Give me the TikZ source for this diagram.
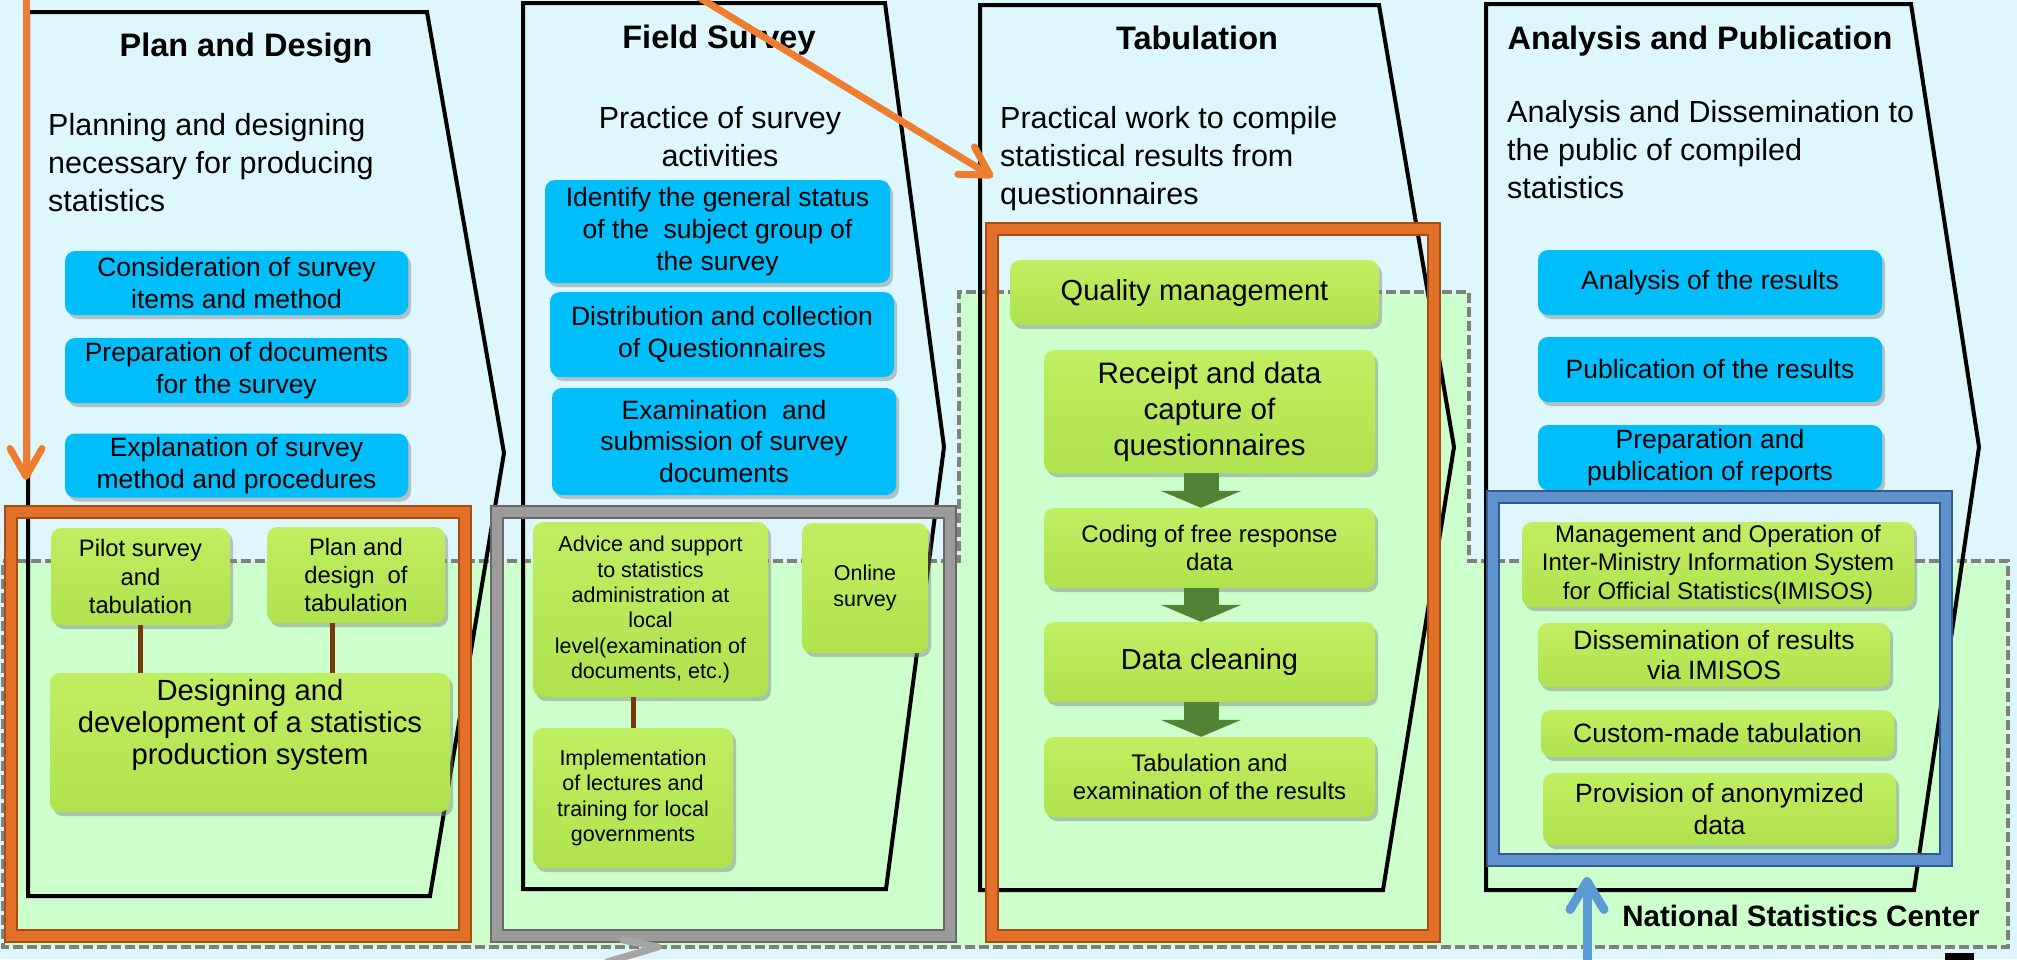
\documentclass[tikz,border=0pt]{standalone}
\usepackage{fontspec}
\setmainfont{Liberation Sans}
\usetikzlibrary{arrows.meta,shadows,calc}
\definecolor{BgC}{RGB}{222,247,253}
\definecolor{GrA}{RGB}{204,255,204}
\definecolor{DsG}{RGB}{128,128,128}
\definecolor{SkyB}{RGB}{0,190,250}
\definecolor{LimeT}{RGB}{192,238,98}
\definecolor{LimeB}{RGB}{176,226,78}
\definecolor{OrgA}{RGB}{237,125,49}
\definecolor{OrgF}{RGB}{226,112,40}
\definecolor{OrgD}{RGB}{165,78,20}
\definecolor{GryF}{RGB}{155,155,155}
\definecolor{GryD}{RGB}{105,105,105}
\definecolor{GryA}{RGB}{165,165,165}
\definecolor{BluF}{RGB}{95,145,205}
\definecolor{BluD}{RGB}{50,90,145}
\definecolor{BluA}{RGB}{91,155,213}
\definecolor{DkG}{RGB}{84,130,53}
\definecolor{Brn}{RGB}{120,56,12}
\tikzset{
    FS/.style 2 args={font=\fontsize{#1}{#2}\selectfont},
    BX/.style 2 args={minimum width=#1pt, minimum height=#2pt},
    TT/.style ={anchor=base, inner sep=0pt, font=\fontsize{32.5}{38}\selectfont\bfseries},
    ST/.style ={anchor=west, align=left, inner sep=0pt, font=\fontsize{30.5}{38}\selectfont},
    BL/.style ={rectangle, rounded corners=10pt, fill=SkyB, align=center, inner sep=0pt,
                drop shadow={shadow xshift=3pt, shadow yshift=-4pt, opacity=.45},
                font=\fontsize{26.5}{31.7}\selectfont},
    GR/.style ={rectangle, rounded corners=10pt, top color=LimeT, bottom color=LimeB, align=center, inner sep=0pt,
                drop shadow={shadow xshift=3pt, shadow yshift=-4pt, opacity=.45}},
    FR/.style 2 args={rectangle, draw=#2, double=#1, double distance=10pt, line width=2pt, inner sep=0pt},
    PG/.style ={draw=black, line width=4pt},
    GZ/.style ={fill=GrA, draw=DsG, line width=3.5pt, dash pattern=on 10pt off 4pt},
    LK/.style ={draw=Brn, line width=5pt},
    GA/.style ={draw=DkG, line width=35pt, -{Triangle[length=17pt, width=80pt]}},
    OA/.style ={draw=OrgA, line width=7pt, line cap=round, -{Straight Barb[round, length=28pt, width=32pt]}},
    BA/.style ={draw=BluA, line width=9pt, -{Straight Barb[round, length=28pt, width=34pt]}},
    GV/.style ={draw=GryA, line width=7pt, line cap=round, line join=round}}

\begin{document}
\begin{tikzpicture}[x=1pt, y=-1pt]
        \useasboundingbox (0,0) rectangle (2017,959);
        \clip (0,0) rectangle (2017,959);
        \fill[BgC] (0,0) rectangle (2017,959);
        \draw[GZ] (3,561) -- (959,561) -- (959,292) -- (1469,292) -- (1469,561) -- (2008,561) -- (2008,947) -- (3,947) -- cycle;
        \draw[PG] (28,12) -- (427,12) -- (504,453) -- (430,896) -- (28,896) -- cycle;
        \draw[PG] (523,3) -- (885,3) -- (944,447) -- (886,889) -- (523,889) -- cycle;
        \draw[PG] (980,5) -- (1379,5) -- (1454,447) -- (1383,890) -- (980,890) -- cycle;
        \draw[PG] (1486,4) -- (1911,4) -- (1979,447) -- (1914,890) -- (1486,890) -- cycle;
        \node[TT] (1) at(246,56){Plan and Design};
        \node[TT] (2) at(719,48){Field Survey};
        \node[TT] (3) at(1197,49){Tabulation};
        \node[TT] (4) at(1700,49){Analysis and Publication};
        \node[ST] (5) at(48,163){Planning and designing\\necessary for producing\\statistics};
        \node[ST, anchor=center, align=center] (6) at(720,137){Practice of survey\\activities};
        \node[ST] (7) at(1000,159){Practical work to compile\\statistical results from\\questionnaires};
        \node[ST] (8) at(1507,150){Analysis and Dissemination to\\the public of compiled\\statistics};
        \node[BL, BX={343}{64}] (9) at(236.5,283){Consideration of survey\\items and method};
        \node[BL, BX={343}{65}] (10) at(236.5,370.5){Preparation of documents\\for the survey};
        \node[BL, BX={343}{64}] (11) at(236.5,465.5){Explanation of survey\\method and procedures};
        \node[BL, BX={345}{103}] (12) at(717.5,231.5){Identify the general status\\of the~ subject group of\\the survey};
        \node[BL, BX={344}{85}] (13) at(722,334.5){Distribution and collection\\of Questionnaires};
        \node[BL, BX={344}{107}] (14) at(724,441.5){Examination~ and\\submission of survey\\documents};
        \node[BL, BX={344}{65}] (15) at(1710,282.5){Analysis of the results};
        \node[BL, BX={344}{65}] (16) at(1710,369.5){Publication of the results};
        \node[BL, BX={344}{65}] (17) at(1710,457.5){Preparation and\\publication of reports};
        \node[FR={OrgF}{OrgD}, BX={454}{424}] (18) at(238,724){};
        \node[FR={GryF}{GryD}, BX={453}{424}] (19) at(723.5,724){};
        \node[FR={OrgF}{OrgD}, BX={442}{707}] (20) at(1213,582.5){};
        \node[FR={BluF}{BluD}, BX={453}{363}] (21) at(1719.5,678.5){};
        \node[GR, BX={179}{97}, FS={23.8}{28.3}] (22) at(140.5,576.5){Pilot survey\\and\\tabulation};
        \node[GR, BX={178}{96}, FS={23.8}{28.3}] (23) at(356,575){Plan and\\design~ of\\tabulation};
        \node[GR, BX={400}{139}, FS={29.2}{31.6}] (24) at(250,742.5){Designing and\\development of a statistics\\production system\\\strut};
        \node[GR, BX={235}{175}, FS={21.5}{25.3}] (25) at(650.5,609.5){Advice and support\\to statistics\\administration at\\local\\level(examination of\\documents, etc.)};
        \node[GR, BX={126}{130}, FS={21.5}{26.7}] (26) at(865,588){Online\\survey};
        \node[GR, BX={200}{140}, FS={21.5}{25.3}] (27) at(633,798){Implementation\\of lectures and\\training for local\\governments};
        \node[GR, BX={369}{65}, FS={29}{34}] (28) at(1194.5,292.5){Quality management};
        \node[GR, BX={331}{123}, FS={29.6}{36}] (29) at(1209.5,411.5){Receipt and data\\capture of\\questionnaires};
        \node[GR, BX={331}{80}, FS={24}{28}] (30) at(1209.5,548){Coding of free response\\data};
        \node[GR, BX={331}{80}, FS={29}{34}] (31) at(1209.5,662){Data cleaning};
        \node[GR, BX={331}{80}, FS={24}{28.3}] (32) at(1209.5,777){Tabulation and\\examination of the results};
        \node[GR, BX={392}{85}, FS={24}{28.3}] (33) at(1718,564.5){Management and Operation of\\Inter-Ministry Information System\\for Official Statistics(IMISOS)};
        \node[GR, BX={352}{64}, FS={26.5}{30}] (34) at(1714,655){Dissemination of results\\via IMISOS};
        \node[GR, BX={353}{47}, FS={26.5}{30}] (35) at(1717.5,733.5){Custom-made tabulation};
        \node[GR, BX={353}{72}, FS={26.5}{31.7}] (36) at(1719.5,809){Provision of anonymized\\data};
        \node[anchor=base, inner sep=0pt, font=\fontsize{29.5}{34}\selectfont\bfseries] (37) at(1801,926){National Statistics Center};
        \coordinate (c1) at($(23.south)+(-24,0)$);
        \draw[LK] (22.south) -- (22.south |- 24.north);
        \draw[LK] (c1) -- (c1 |- 24.north);
        \draw[LK] (27.north) -- (27.north |- 25.south);
        \draw[GA] ([xshift=-8.5pt]29.south) -- ([xshift=-8.5pt]30.north);
        \draw[GA] ([xshift=-8.5pt]30.south) -- ([xshift=-8.5pt]31.north);
        \draw[GA] ([xshift=-8.5pt]31.south) -- ([xshift=-8.5pt]32.north);
        \coordinate (a1) at(26,-10);
        \coordinate (a2) at(26,480);
        \coordinate (a3) at(687,-10);
        \coordinate (a4) at(993,177);
        \coordinate (a5) at(1587,975);
        \coordinate (a6) at(1587,877);
        \draw[OA] (a1) -- (a2);
        \draw[OA] (a3) -- (a4);
        \draw[BA] (a5) -- (a6);
        \draw[GV] (623,940) -- (658,947) -- (607,962);
        \fill[black] (1945,953) rectangle (1974,962);
\end{tikzpicture}
\end{document}
